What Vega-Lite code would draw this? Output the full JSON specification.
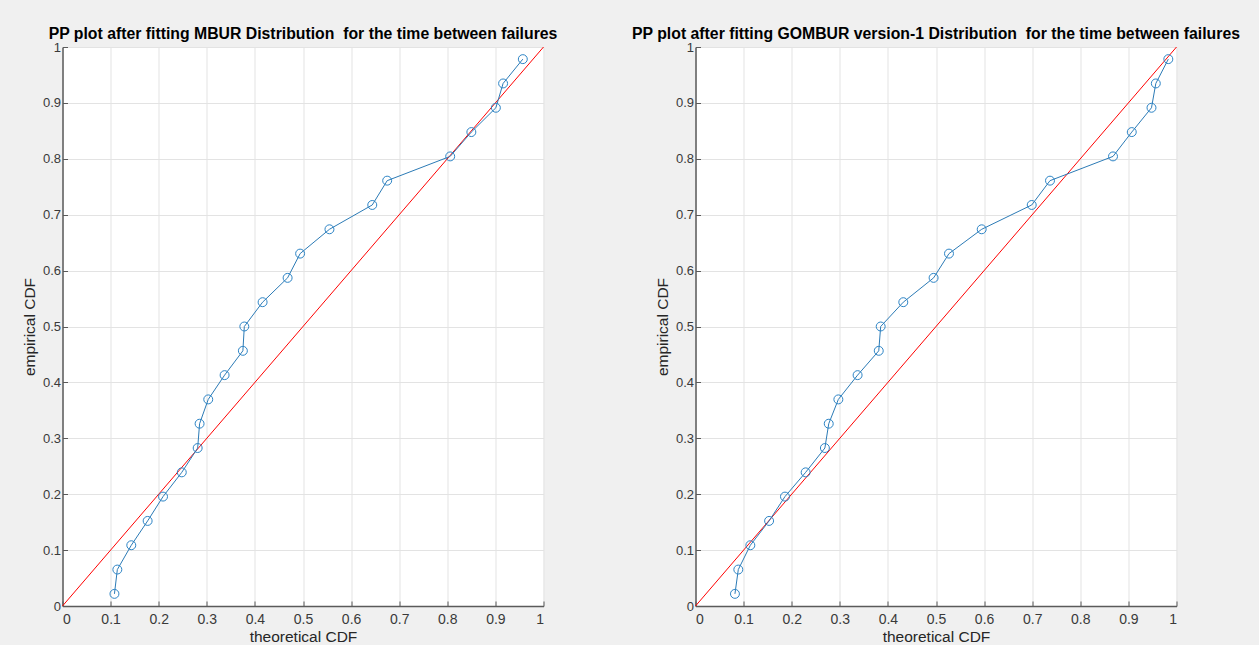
{
  "$schema": "https://vega.github.io/schema/vega-lite/v6.json",
  "background": "#f0f0f0",
  "padding": {"left": 21.5, "top": 25, "right": 50.5, "bottom": 0},
  "bounds": "flush",
  "spacing": 152,
  "datasets": {
    "pts": [
      {"model": "MBUR", "x": 0.108, "y": 0.0217},
      {"model": "MBUR", "x": 0.114, "y": 0.0652},
      {"model": "MBUR", "x": 0.143, "y": 0.1087},
      {"model": "MBUR", "x": 0.177, "y": 0.1522},
      {"model": "MBUR", "x": 0.209, "y": 0.1957},
      {"model": "MBUR", "x": 0.248, "y": 0.2391},
      {"model": "MBUR", "x": 0.281, "y": 0.2826},
      {"model": "MBUR", "x": 0.285, "y": 0.3261},
      {"model": "MBUR", "x": 0.303, "y": 0.3696},
      {"model": "MBUR", "x": 0.337, "y": 0.4130},
      {"model": "MBUR", "x": 0.375, "y": 0.4565},
      {"model": "MBUR", "x": 0.378, "y": 0.5000},
      {"model": "MBUR", "x": 0.416, "y": 0.5435},
      {"model": "MBUR", "x": 0.468, "y": 0.5870},
      {"model": "MBUR", "x": 0.494, "y": 0.6304},
      {"model": "MBUR", "x": 0.555, "y": 0.6739},
      {"model": "MBUR", "x": 0.644, "y": 0.7174},
      {"model": "MBUR", "x": 0.675, "y": 0.7609},
      {"model": "MBUR", "x": 0.806, "y": 0.8043},
      {"model": "MBUR", "x": 0.850, "y": 0.8478},
      {"model": "MBUR", "x": 0.901, "y": 0.8913},
      {"model": "MBUR", "x": 0.916, "y": 0.9348},
      {"model": "MBUR", "x": 0.957, "y": 0.9783},
      {"model": "GOMBUR", "x": 0.082, "y": 0.0217},
      {"model": "GOMBUR", "x": 0.089, "y": 0.0652},
      {"model": "GOMBUR", "x": 0.114, "y": 0.1087},
      {"model": "GOMBUR", "x": 0.153, "y": 0.1522},
      {"model": "GOMBUR", "x": 0.186, "y": 0.1957},
      {"model": "GOMBUR", "x": 0.229, "y": 0.2391},
      {"model": "GOMBUR", "x": 0.269, "y": 0.2826},
      {"model": "GOMBUR", "x": 0.277, "y": 0.3261},
      {"model": "GOMBUR", "x": 0.297, "y": 0.3696},
      {"model": "GOMBUR", "x": 0.337, "y": 0.4130},
      {"model": "GOMBUR", "x": 0.381, "y": 0.4565},
      {"model": "GOMBUR", "x": 0.385, "y": 0.5000},
      {"model": "GOMBUR", "x": 0.432, "y": 0.5435},
      {"model": "GOMBUR", "x": 0.495, "y": 0.5870},
      {"model": "GOMBUR", "x": 0.527, "y": 0.6304},
      {"model": "GOMBUR", "x": 0.595, "y": 0.6739},
      {"model": "GOMBUR", "x": 0.699, "y": 0.7174},
      {"model": "GOMBUR", "x": 0.737, "y": 0.7609},
      {"model": "GOMBUR", "x": 0.868, "y": 0.8043},
      {"model": "GOMBUR", "x": 0.907, "y": 0.8478},
      {"model": "GOMBUR", "x": 0.948, "y": 0.8913},
      {"model": "GOMBUR", "x": 0.957, "y": 0.9348},
      {"model": "GOMBUR", "x": 0.983, "y": 0.9783}
    ],
    "ref": [{"x": 0, "y": 0}, {"x": 1, "y": 1}]
  },
  "config": {
    "font": "Liberation Sans",
    "view": {"fill": "white", "stroke": null},
    "title": {"fontSize": 15.8, "fontWeight": "bold", "color": "#000000", "offset": -1.5, "anchor": "middle"},
    "axis": {
      "grid": true,
      "gridColor": "#e3e3e3",
      "gridWidth": 1,
      "domainColor": "#5a5a5a",
      "domainWidth": 1.5,
      "tickColor": "#5a5a5a",
      "tickSize": -5,
      "labelFontSize": 14,
      "labelColor": "#3a3a3a",
      "titleFontSize": 15.5,
      "titleFontWeight": "normal",
      "titleColor": "#262626",
      "values": [0, 0.1, 0.2, 0.3, 0.4, 0.5, 0.6, 0.7, 0.8, 0.9, 1],
      "format": "~g"
    },
    "axisX": {"labelPadding": 11, "titlePadding": 3},
    "axisY": {"labelPadding": 7, "titlePadding": 5, "labelFontSize": 13}
  },
  "hconcat": [
    {
      "width": 481,
      "height": 559,
      "title": "PP plot after fitting MBUR Distribution\u00a0 for the time between failures",
      "layer": [
        {
          "data": {"name": "ref"},
          "mark": {"type": "line", "color": "#ff0000", "strokeWidth": 1},
          "encoding": {
            "x": {"field": "x", "type": "quantitative", "scale": {"domain": [0, 1], "nice": false}, "axis": {"title": "theoretical CDF"}},
            "y": {"field": "y", "type": "quantitative", "scale": {"domain": [0, 1], "nice": false}, "axis": {"title": "empirical CDF"}}
          }
        },
        {
          "data": {"name": "pts"},
          "transform": [{"filter": "datum.model === 'MBUR'"}],
          "mark": {"type": "line", "color": "#2c7bb6", "strokeWidth": 1, "point": {"filled": false, "shape": "circle", "size": 80, "stroke": "#2c84c6", "strokeWidth": 1}},
          "encoding": {
            "x": {"field": "x", "type": "quantitative"},
            "y": {"field": "y", "type": "quantitative"}
          }
        }
      ]
    },
    {
      "width": 481,
      "height": 559,
      "title": "PP plot after fitting GOMBUR version-1 Distribution\u00a0 for the time between failures",
      "layer": [
        {
          "data": {"name": "ref"},
          "mark": {"type": "line", "color": "#ff0000", "strokeWidth": 1},
          "encoding": {
            "x": {"field": "x", "type": "quantitative", "scale": {"domain": [0, 1], "nice": false}, "axis": {"title": "theoretical CDF"}},
            "y": {"field": "y", "type": "quantitative", "scale": {"domain": [0, 1], "nice": false}, "axis": {"title": "empirical CDF"}}
          }
        },
        {
          "data": {"name": "pts"},
          "transform": [{"filter": "datum.model === 'GOMBUR'"}],
          "mark": {"type": "line", "color": "#2c7bb6", "strokeWidth": 1, "point": {"filled": false, "shape": "circle", "size": 80, "stroke": "#2c84c6", "strokeWidth": 1}},
          "encoding": {
            "x": {"field": "x", "type": "quantitative"},
            "y": {"field": "y", "type": "quantitative"}
          }
        }
      ]
    }
  ]
}
